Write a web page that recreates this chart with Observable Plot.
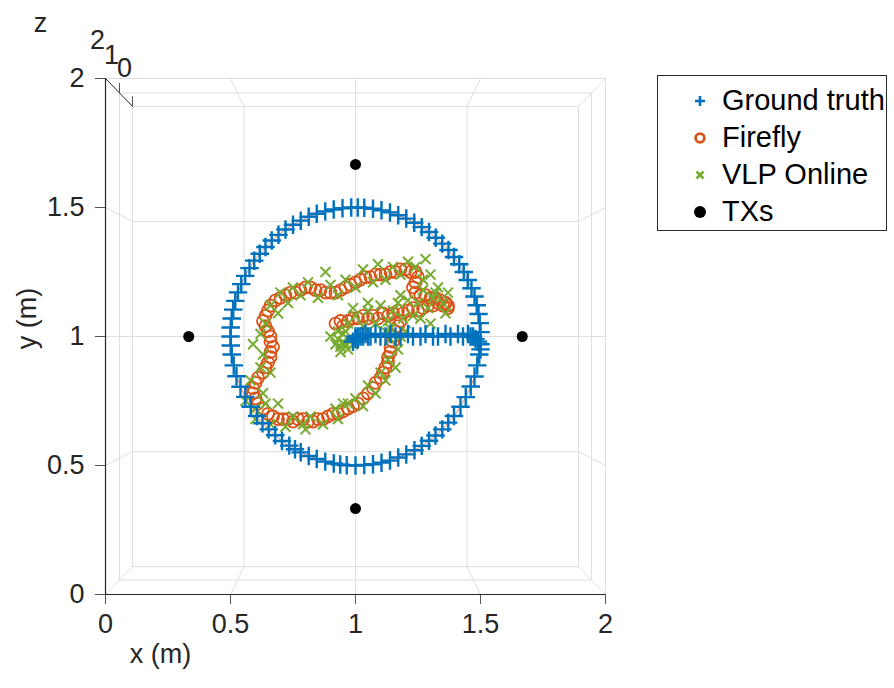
<!DOCTYPE html>
<html>
<head>
<meta charset="utf-8">
<script src="https://cdn.jsdelivr.net/npm/d3@7"></script>
<script src="https://cdn.jsdelivr.net/npm/@observablehq/plot@0.6"></script>
<style>
  body { margin: 0; background: #fff; font-family: "Liberation Sans", Arial, Helvetica, sans-serif; }
  #fig { position: relative; width: 894px; height: 688px; overflow: hidden; }
  #chart { position: absolute; left: 0; top: 0; }
  #legend { position: absolute; left: 657px; top: 75px; width: 230px; height: 156px;
            border: 1px solid #2b2b2b; background: #fff; box-sizing: border-box; }
  .row { position: absolute; left: 0; height: 37px; display: flex; align-items: center;
         font-size: 29px; color: #000; white-space: nowrap; }
  .row svg { position: absolute; left: 32px; }
  .row span { position: absolute; left: 64px; }
</style>
</head>
<body>
<div id="fig">
  <div id="chart"></div>
  <div id="legend"></div>
</div>
<script>
// Axis ticks and labels
const xTicks = [0, 0.5, 1, 1.5, 2];
const yTicks = [0, 0.5, 1, 1.5, 2];
const zTicks = [0, 1, 2];
const xLabel = "x (m)";
const yLabel = "y (m)";
const zLabel = "z";

// Series names and colours
const seriesNames = ["Ground truth", "Firefly", "VLP Online", "TXs"];
const seriesColors = ["#0072BD", "#D95319", "#77AC30", "#000000"];

// Ground truth path [x, y] in metres
const groundTruth = [
  [0.99,0.98],[1.00,0.99],[1.00,1.00],[1.01,1.00],[1.01,0.99],[1.02,1.00],[1.03,1.00],[1.04,1.01],
  [1.05,1.00],[1.06,1.00],[1.08,1.01],[1.10,1.00],[1.12,1.00],[1.14,1.01],[1.16,1.00],[1.18,1.00],
  [1.21,1.01],[1.23,1.00],[1.26,1.00],[1.28,1.01],[1.31,1.00],[1.33,1.00],[1.36,1.01],[1.38,1.00],
  [1.41,1.01],[1.43,1.00],[1.45,1.01],[1.46,1.00],[1.47,1.00],[1.48,0.99],[1.49,0.98],[1.50,0.97],
  [1.50,0.95],[1.495,0.93],[1.487,0.888],[1.476,0.845],[1.461,0.806],[1.441,0.765],[1.420,0.728],
  [1.394,0.692],[1.371,0.666],[1.347,0.640],[1.320,0.616],[1.294,0.596],[1.265,0.576],[1.236,0.559],
  [1.203,0.543],[1.171,0.531],[1.138,0.519],[1.104,0.511],[1.070,0.505],[1.035,0.502],[1.000,0.500],
  [0.965,0.501],[0.939,0.504],[0.913,0.508],[0.879,0.515],[0.845,0.525],[0.813,0.537],[0.781,0.551],
  [0.758,0.563],[0.735,0.577],[0.706,0.595],[0.679,0.617],[0.653,0.640],[0.628,0.664],[0.606,0.692],
  [0.581,0.728],[0.559,0.766],[0.540,0.805],[0.524,0.846],[0.513,0.888],[0.505,0.930],[0.501,0.965],
  [0.500,1.000],[0.501,1.035],[0.505,1.070],[0.511,1.104],[0.519,1.138],[0.530,1.171],[0.543,1.203],
  [0.559,1.235],[0.576,1.265],[0.595,1.294],[0.617,1.321],[0.640,1.347],[0.665,1.372],[0.692,1.394],
  [0.720,1.415],[0.750,1.433],[0.781,1.449],[0.813,1.464],[0.845,1.476],[0.879,1.485],[0.913,1.492],
  [0.948,1.497],[0.983,1.500],[1.009,1.500],[1.035,1.499],[1.070,1.495],[1.104,1.489],[1.138,1.481],
  [1.171,1.470],[1.203,1.457],[1.235,1.441],[1.265,1.424],[1.294,1.405],[1.321,1.383],[1.347,1.360],
  [1.372,1.335],[1.394,1.308],[1.415,1.280],[1.433,1.250],[1.449,1.219],[1.464,1.187],[1.476,1.155],
  [1.485,1.121],[1.492,1.087],[1.497,1.052],[1.500,1.017]
];

// Firefly estimates [x, y]
const firefly = [
  [0.92,1.05],[0.94,1.06],[0.95,1.04],[0.97,1.06],[0.99,1.07],[1.01,1.07],[1.03,1.08],[1.05,1.07],
  [1.07,1.08],[1.09,1.07],[1.11,1.09],[1.13,1.08],[1.15,1.09],[1.17,1.10],[1.19,1.09],[1.21,1.10],
  [1.23,1.11],[1.25,1.10],[1.27,1.11],[1.29,1.12],[1.31,1.12],[1.33,1.13],[1.35,1.12],[1.37,1.11],
  [1.36,1.13],
  [0.70,1.15],[0.72,1.16],[0.74,1.17],[0.76,1.17],[0.78,1.18],[0.80,1.19],[0.82,1.19],[0.84,1.18],
  [0.86,1.18],[0.88,1.17],[0.90,1.17],[0.92,1.17],[0.94,1.18],[0.96,1.19],[0.98,1.20],[1.00,1.21],
  [1.02,1.22],[1.04,1.23],[1.06,1.23],[1.08,1.24],[1.10,1.24],[1.12,1.24],[1.14,1.25],[1.16,1.25],
  [1.18,1.26],[1.20,1.26],[1.22,1.25],[1.24,1.25],[1.25,1.23],[1.24,1.21],[1.23,1.19],[1.24,1.17],
  [1.26,1.16],[1.28,1.16],[1.30,1.15],[1.32,1.15],[1.34,1.14],[1.36,1.13],[1.37,1.12],
  [0.68,1.14],[0.66,1.12],[0.65,1.10],[0.64,1.08],[0.63,1.06],[0.64,1.04],[0.65,1.02],[0.66,1.00],
  [0.66,0.98],[0.67,0.96],[0.66,0.94],[0.66,0.92],[0.65,0.90],[0.64,0.88],[0.63,0.86],[0.61,0.84],
  [0.60,0.82],[0.59,0.80],[0.59,0.78],[0.60,0.76],[0.61,0.74],[0.63,0.72],[0.65,0.70],[0.67,0.69],
  [0.69,0.68],[0.71,0.68],[0.73,0.68],[0.75,0.67],[0.77,0.68],[0.79,0.68],[0.81,0.67],[0.83,0.67],
  [0.85,0.68],[0.87,0.68],[0.89,0.69],[0.91,0.70],[0.93,0.70],[0.95,0.71],[0.97,0.72],[0.99,0.73],
  [1.01,0.74],[1.03,0.76],[1.05,0.78],[1.07,0.80],[1.08,0.82],[1.10,0.84],[1.11,0.86],[1.12,0.88],
  [1.13,0.90],[1.13,0.92],[1.14,0.94],[1.14,0.96],[1.15,0.98],[1.15,1.00],[1.16,1.02],[1.17,1.04],
  [1.18,1.06]
];

// VLP Online estimates [x, y]
const vlpOnline = [
  [0.90,1.00],[0.92,0.97],[0.93,0.99],[0.94,0.96],[0.95,0.98],[0.95,1.01],[0.96,0.97],[0.97,0.99],
  [0.97,0.95],[0.98,0.98],[0.96,1.02],[0.93,1.02],[0.99,0.97],[0.94,0.94],
  [0.97,1.05],[1.00,1.08],[1.03,1.04],[1.05,1.10],[1.08,1.05],[1.10,1.12],[1.13,1.06],[1.15,1.10],
  [1.17,1.13],[1.19,1.07],[1.21,1.14],[1.23,1.08],[1.25,1.13],[1.27,1.18],[1.29,1.11],[1.31,1.15],
  [1.33,1.19],[1.35,1.13],[1.37,1.17],[1.36,1.09],[1.30,1.05],[1.20,1.02],[1.14,1.03],[1.05,1.13],
  [0.99,1.11],[1.18,1.16],[1.26,1.07],
  [0.70,1.17],[0.73,1.13],[0.75,1.19],[0.78,1.16],[0.81,1.21],[0.85,1.15],[0.88,1.25],[0.90,1.20],
  [0.93,1.16],[0.96,1.22],[1.00,1.19],[1.03,1.26],[1.07,1.21],[1.09,1.28],[1.12,1.22],[1.15,1.27],
  [1.18,1.24],[1.21,1.29],[1.24,1.27],[1.28,1.30],[1.30,1.24],[1.27,1.22],[1.32,1.17],
  [0.66,1.12],[0.69,1.09],[0.64,1.05],[0.62,1.01],[0.59,0.97],[0.63,0.93],[0.62,0.88],[0.66,0.86],
  [0.58,0.83],[0.63,0.78],[0.56,0.75],[0.60,0.72],[0.60,0.68],[0.64,0.74],[0.66,0.66],[0.69,0.74],
  [0.72,0.65],[0.75,0.69],[0.79,0.66],[0.80,0.64],[0.82,0.69],[0.87,0.66],[0.92,0.72],[0.93,0.68],
  [0.95,0.74],[0.97,0.74],[1.00,0.76],[1.03,0.73],[1.05,0.81],[1.08,0.78],[1.10,0.86],[1.12,0.83],
  [1.13,0.91],[1.16,0.88],[1.17,0.95],[1.14,0.99],[1.18,1.00],[1.12,1.02]
];

// Transmitter positions [x, y]
const txs = [[1, 1.667], [1, 0.333], [0.333, 1], [1.667, 1]];

// Perspective shrink of each z plane toward the view centre (1, 1)
const depthScale = {0: 0.892, 1: 0.944, 2: 1};
const proj = (x, y, z) => [1 + (x - 1) * depthScale[z], 1 + (y - 1) * depthScale[z]];

// Wireframe of the 3D box: back plane, z-grid ring, wall grid lines, corner edges
const boxLines = [];
const zAxisLine = [];
function edge(a, b, list = boxLines) {
  const [x1, y1] = proj(...a), [x2, y2] = proj(...b);
  list.push({x1, y1, x2, y2});
}
const lo = xTicks[0], hi = xTicks[xTicks.length - 1];
for (const z of [0, 1]) {
  edge([lo, lo, z], [hi, lo, z]); edge([hi, lo, z], [hi, hi, z]);
  edge([hi, hi, z], [lo, hi, z]); edge([lo, hi, z], [lo, lo, z]);
}
edge([lo, hi, 2], [hi, hi, 2]);
edge([hi, lo, 2], [hi, hi, 2]);
edge([lo, lo, 2], [lo, lo, 0]);
edge([hi, lo, 2], [hi, lo, 0]);
edge([hi, hi, 2], [hi, hi, 0]);
edge([lo, hi, 2], [lo, hi, 0], zAxisLine);
for (const v of xTicks.slice(1, -1)) {
  edge([v, lo, 2], [v, lo, 0]); edge([v, hi, 2], [v, hi, 0]); edge([v, lo, 0], [v, hi, 0]);
}
for (const v of yTicks.slice(1, -1)) {
  edge([lo, v, 2], [lo, v, 0]); edge([hi, v, 2], [hi, v, 0]); edge([lo, v, 0], [hi, v, 0]);
}
const zTickPts = zTicks.map(z => { const [x, y] = proj(lo, hi, z); return {z, x, y}; });

const gridColor = "#dedede";
const axisColor = "#262626";
const fontSize = 27;

const chart = Plot.plot({
  width: 640,
  height: 688,
  marginLeft: 105,
  marginRight: 35,
  marginTop: 78,
  marginBottom: 94,
  style: {fontFamily: '"Liberation Sans", Arial, Helvetica, sans-serif', fontSize: fontSize + "px", color: axisColor, overflow: "visible"},
  x: {type: "linear", domain: [lo, hi]},
  y: {type: "linear", domain: [lo, hi]},
  marks: [
    Plot.link(boxLines, {x1: "x1", y1: "y1", x2: "x2", y2: "y2", stroke: gridColor, strokeWidth: 1}),
    Plot.link(zAxisLine, {x1: "x1", y1: "y1", x2: "x2", y2: "y2", stroke: axisColor, strokeWidth: 1}),
    // z ticks and labels along the corner edge
    Plot.vector(zTickPts.filter(d => d.z < 2), {x: "x", y: "y", length: 10, rotate: 0, anchor: "start", shape: "spike", r: 0, stroke: "#555", strokeWidth: 1}),
    Plot.text(zTickPts, {x: "x", y: "y", text: d => String(d.z), dx: -8, dy: -38, fontSize, fill: axisColor}),
    Plot.text([zLabel], {x: () => zTickPts[1].x, y: () => zTickPts[1].y, text: d => d, dx: -79, dy: -70, fontSize, fill: axisColor}),
    // axes
    Plot.axisX({ticks: xTicks, tickSize: 10, tickPadding: 9, tickFormat: d => String(d), stroke: "#555", label: null, fontSize}),
    Plot.axisY({ticks: yTicks, tickSize: 10, tickPadding: 11, tickFormat: d => String(d), stroke: "#555", label: null, fontSize}),
    Plot.ruleY([lo], {stroke: axisColor, strokeWidth: 1.2}),
    Plot.ruleX([lo], {stroke: axisColor, strokeWidth: 1.2}),
    Plot.text([xLabel], {frameAnchor: "bottom-left", text: d => d, textAnchor: "middle", dx: 55, dy: 68, fontSize, fill: axisColor}),
    Plot.text([yLabel], {frameAnchor: "left", text: d => d, textAnchor: "middle", dx: -78, dy: -18, rotate: -90, fontSize, fill: axisColor}),
    // data
    Plot.line(groundTruth, {x: d => d[0], y: d => d[1], stroke: seriesColors[1], strokeWidth: 0.8, strokeOpacity: 0.8}),
    Plot.dot(firefly, {x: d => d[0], y: d => d[1], symbol: "circle", r: 6, stroke: seriesColors[1], strokeWidth: 1.8, fill: "none"}),
    Plot.dot(vlpOnline, {x: d => d[0], y: d => d[1], symbol: "times", r: 4.6, stroke: seriesColors[2], strokeWidth: 2}),
    Plot.dot(groundTruth, {x: d => d[0], y: d => d[1], symbol: "plus", r: 6, stroke: seriesColors[0], strokeWidth: 2.4}),
    Plot.dot(txs, {x: d => d[0], y: d => d[1], r: 5.5, fill: seriesColors[3], stroke: "none"})
  ]
});
document.getElementById("chart").append(chart);

// Legend
const legendSymbols = [
  '<line x1="5" y1="10" x2="15" y2="10" stroke-width="2.6"/><line x1="10" y1="5" x2="10" y2="15" stroke-width="2.6"/>',
  '<circle cx="10" cy="10" r="4.4" fill="none" stroke-width="2.8"/>',
  '<line x1="6.5" y1="6.5" x2="13.5" y2="13.5" stroke-width="2.6"/><line x1="13.5" y1="6.5" x2="6.5" y2="13.5" stroke-width="2.6"/>',
  '<circle cx="10" cy="10" r="6" stroke="none"/>'
];
const legend = document.getElementById("legend");
seriesNames.forEach((name, i) => {
  const row = document.createElement("div");
  row.className = "row";
  row.style.top = (6 + i * 37) + "px";
  row.innerHTML = `<svg width="20" height="20" viewBox="0 0 20 20" stroke="${seriesColors[i]}" fill="${seriesColors[i]}">${legendSymbols[i]}</svg><span>${name}</span>`;
  legend.append(row);
});
</script>
</body>
</html>
